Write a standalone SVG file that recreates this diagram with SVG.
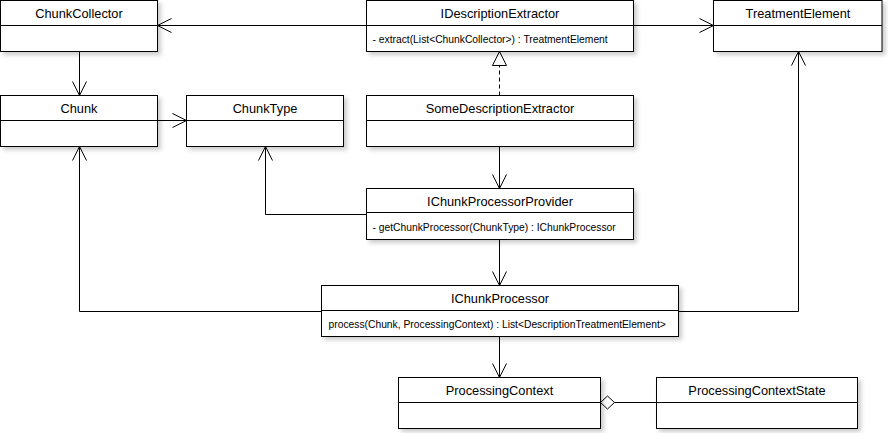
<svg xmlns="http://www.w3.org/2000/svg" width="888" height="433" viewBox="0 0 888 433">
<style>
.box{fill:#fff;stroke:#000;stroke-width:1;filter:url(#sh)}
.div{stroke:#000;stroke-width:1}
.t{font-family:"Liberation Sans",Arial,sans-serif;font-size:12.8px;fill:#000;text-anchor:middle}
.m{font-family:"Liberation Sans",Arial,sans-serif;font-size:10.3px;fill:#000}
.c{fill:none;stroke:#000;stroke-width:1}
.arr{marker-end:url(#open)}
</style>
<defs>
<filter id="sh" x="-5%" y="-10%" width="115%" height="140%">
<feDropShadow dx="3" dy="3" stdDeviation="2" flood-color="#000" flood-opacity="0.2"/>
</filter>
<marker id="open" markerUnits="userSpaceOnUse" markerWidth="16" markerHeight="16" refX="15" refY="8" orient="auto" overflow="visible">
<path d="M1,1 L15,8 L1,15" fill="none" stroke="#000" stroke-width="1"/>
</marker>
<marker id="tri" markerUnits="userSpaceOnUse" markerWidth="16" markerHeight="16" refX="15" refY="8" orient="auto" overflow="visible">
<path d="M1,1 L15,8 L1,15 Z" fill="#fff" stroke="#000" stroke-width="1"/>
</marker>
<marker id="dia" markerUnits="userSpaceOnUse" markerWidth="16" markerHeight="16" refX="0" refY="7" orient="auto" overflow="visible">
<path d="M0,7 L7,0.5 L14,7 L7,13.5 Z" fill="#fff" stroke="#000" stroke-width="1"/>
</marker>
</defs>
<rect width="888" height="433" fill="#fff"/>

<g id="connectors">
<line class="c arr" x1="366.5" y1="25.5" x2="157.5" y2="25.5"/>
<line class="c arr" x1="633.5" y1="25.5" x2="713.5" y2="25.5"/>
<line class="c arr" x1="79.5" y1="51.5" x2="79.5" y2="95.5"/>
<line class="c arr" x1="157.5" y1="120.5" x2="186.5" y2="120.5"/>
<line class="c" x1="499.5" y1="95.5" x2="499.5" y2="51.5" stroke-dasharray="4,3" marker-end="url(#tri)"/>
<line class="c arr" x1="499.5" y1="146.5" x2="499.5" y2="188.5"/>
<polyline class="c arr" points="366.5,214.5 265.5,214.5 265.5,146.5"/>
<line class="c arr" x1="499.5" y1="239.5" x2="499.5" y2="285.5"/>
<polyline class="c arr" points="321.5,311.5 79.5,311.5 79.5,146.5"/>
<polyline class="c arr" points="678.5,311.5 798.5,311.5 798.5,51.5"/>
<line class="c arr" x1="499.5" y1="336.5" x2="499.5" y2="377.5"/>
<line class="c" x1="600.5" y1="402.5" x2="656.5" y2="402.5" marker-start="url(#dia)"/>
</g>

<g id="ChunkCollector">
<rect class="box" x="0.5" y="0.5" width="157" height="51"/>
<line class="div" x1="0.5" y1="25.5" x2="157.5" y2="25.5"/>
<text class="t" x="79" y="17.5">ChunkCollector</text>
</g>
<g id="IDescriptionExtractor">
<rect class="box" x="366.5" y="0.5" width="267" height="51"/>
<line class="div" x1="366.5" y1="25.5" x2="633.5" y2="25.5"/>
<text class="t" x="500" y="17.5">IDescriptionExtractor</text>
<text class="m" x="372.5" y="42.5">- extract(List&lt;ChunkCollector&gt;) : TreatmentElement</text>
</g>
<g id="TreatmentElement">
<rect class="box" x="713.5" y="0.5" width="168.5" height="51"/>
<line class="div" x1="713.5" y1="25.5" x2="882" y2="25.5"/>
<text class="t" x="798" y="17.5">TreatmentElement</text>
</g>
<g id="Chunk">
<rect class="box" x="0.5" y="95.5" width="157" height="51"/>
<line class="div" x1="0.5" y1="120.5" x2="157.5" y2="120.5"/>
<text class="t" x="79" y="112.5">Chunk</text>
</g>
<g id="ChunkType">
<rect class="box" x="186.5" y="95.5" width="157" height="51"/>
<line class="div" x1="186.5" y1="120.5" x2="343.5" y2="120.5"/>
<text class="t" x="265" y="112.5">ChunkType</text>
</g>
<g id="SomeDescriptionExtractor">
<rect class="box" x="366.5" y="95.5" width="267" height="51"/>
<line class="div" x1="366.5" y1="120.5" x2="633.5" y2="120.5"/>
<text class="t" x="500" y="112.5">SomeDescriptionExtractor</text>
</g>
<g id="IChunkProcessorProvider">
<rect class="box" x="366.5" y="188.5" width="267" height="51"/>
<line class="div" x1="366.5" y1="212.5" x2="633.5" y2="212.5"/>
<text class="t" x="500" y="205.5">IChunkProcessorProvider</text>
<text class="m" x="372.5" y="231">- getChunkProcessor(ChunkType) : IChunkProcessor</text>
</g>
<g id="IChunkProcessor">
<rect class="box" x="321.5" y="285.5" width="357" height="51"/>
<line class="div" x1="321.5" y1="310.5" x2="678.5" y2="310.5"/>
<text class="t" x="500" y="302.5">IChunkProcessor</text>
<text class="m" x="328.5" y="327.5">process(Chunk, ProcessingContext) : List&lt;DescriptionTreatmentElement&gt;</text>
</g>
<g id="ProcessingContext">
<rect class="box" x="398.5" y="377.5" width="202" height="51"/>
<line class="div" x1="398.5" y1="402.5" x2="600.5" y2="402.5"/>
<text class="t" x="499.5" y="394.5">ProcessingContext</text>
</g>
<g id="ProcessingContextState">
<rect class="box" x="656.5" y="377.5" width="201" height="51"/>
<line class="div" x1="656.5" y1="402.5" x2="857.5" y2="402.5"/>
<text class="t" x="757" y="394.5">ProcessingContextState</text>
</g>
</svg>
